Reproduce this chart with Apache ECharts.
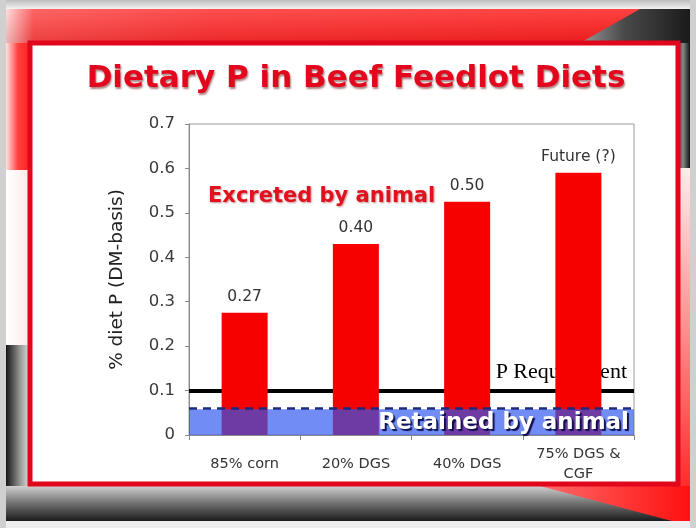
<!DOCTYPE html>
<html>
<head>
<meta charset="utf-8">
<script src="https://cdn.jsdelivr.net/npm/echarts@6/dist/echarts.min.js"></script>
<style>
html,body{margin:0;padding:0;background:#fff;}
#chart{width:696px;height:528px;}
</style>
</head>
<body>
<div id="chart"></div>
<script>
// ---- data ----
const categories = ['85% corn', '20% DGS', '40% DGS', '75% DGS &\nCGF'];
const excretedValues = [0.275, 0.43, 0.525, 0.59];
const barLabels = ['0.27', '0.40', '0.50', 'Future (?)'];
const requirementLevel = 0.105;
const retainedLevel = 0.058;
const yMin = 0, yMax = 0.7, yStep = 0.1;
const titleText = 'Dietary P in Beef Feedlot Diets';
const yAxisTitle = '% diet P (DM-basis)';
const excretedText = 'Excreted by animal';
const retainedText = 'Retained by animal';
const requirementText = 'P Requirement';

const chart = echarts.init(document.getElementById('chart'));

function lg(x, y, x2, y2, stops) {
  return new echarts.graphic.LinearGradient(x, y, x2, y2,
    stops.map(s => ({offset: s[0], color: s[1]})));
}

const bg = [
  {type: 'rect', z: -10, shape: {x: 0, y: 0, width: 696, height: 528}, style: {fill: '#d6d6d6'}},
  {type: 'rect', z: -10, shape: {x: 0, y: 0, width: 696, height: 9}, style: {fill: lg(0,0,0,1,[[0,'#bdbdbd'],[1,'#f2f2f2']])}},
  {type: 'rect', z: -9, shape: {x: 6, y: 9, width: 684, height: 513}, style: {fill: '#ffffff'}},
  // top band
  {type: 'rect', z: -8, shape: {x: 6, y: 9, width: 684, height: 34}, style: {fill: lg(0,0,1,0,[[0,'#ffd6d6'],[0.04,'#ff4a4a'],[0.3,'#ff3030'],[1,'#ff1e1e']])}},
  {type: 'rect', z: -8, shape: {x: 6, y: 9, width: 684, height: 34}, style: {fill: lg(0,0,0,1,[[0,'rgba(255,255,255,0.15)'],[1,'rgba(120,0,0,0.15)']])}},
  {type: 'polygon', z: -7, shape: {points: [[580, 43], [640, 9], [690, 9], [690, 43]]}, style: {fill: lg(0,0,1,0,[[0,'#9a9a9a'],[0.4,'#4a4a4a'],[1,'#1a1a1a']])}},
  // right strip
  {type: 'rect', z: -8, shape: {x: 676, y: 43, width: 14, height: 125}, style: {fill: lg(0,0,1,0,[[0,'#222'],[0.5,'#888'],[1,'#111']])}},
  {type: 'rect', z: -8, shape: {x: 676, y: 168, width: 14, height: 320}, style: {fill: lg(0,0,0,1,[[0,'#ffecec'],[0.5,'#ff9090'],[1,'#ff2a2a']])}},
  // left strip
  {type: 'rect', z: -8, shape: {x: 6, y: 43, width: 24, height: 127}, style: {fill: lg(0,0,1,0,[[0,'#ffe2e2'],[0.5,'#ff4040'],[1,'#ff2020']])}},
  {type: 'rect', z: -8, shape: {x: 6, y: 170, width: 24, height: 175}, style: {fill: lg(0,0,1,0,[[0,'#ffffff'],[1,'#ffe8e8']])}},
  {type: 'rect', z: -8, shape: {x: 6, y: 345, width: 24, height: 143}, style: {fill: lg(0,0,1,0,[[0,'#151515'],[0.6,'#9a9a9a'],[1,'#e0e0e0']])}},
  // bottom band
  {type: 'rect', z: -8, shape: {x: 6, y: 486, width: 684, height: 35}, style: {fill: lg(0,0,0,1,[[0,'#d0d0d0'],[0.5,'#707070'],[1,'#1c1c1c']])}},
  {type: 'polygon', z: -7, shape: {points: [[540, 486], [690, 486], [690, 521], [672, 521]]}, style: {fill: lg(0,0,1,0,[[0,'#ff6a6a'],[1,'#ff1010']])}},
  {type: 'rect', z: -7, shape: {x: 0, y: 521, width: 696, height: 7}, style: {fill: '#eeeeee'}},
  {type: 'rect', z: -7, shape: {x: 690, y: 0, width: 6, height: 528}, style: {fill: '#d0d0d0'}},
  {type: 'rect', z: -7, shape: {x: 0, y: 0, width: 6, height: 528}, style: {fill: '#d0d0d0'}},
  // white panel with red border
  {type: 'rect', z: -5, shape: {x: 30, y: 43, width: 648, height: 441}, style: {fill: '#ffffff', stroke: '#e0061c', lineWidth: 5}}
];

const texts = [
  {type: 'text', z: 50, x: 208, y: 197, style: {
    text: excretedText, fill: '#e3101e', font: 'bold 21px "DejaVu Sans", sans-serif',
    textAlign: 'left', textVerticalAlign: 'middle',
    textShadowColor: 'rgba(110,0,0,0.45)', textShadowBlur: 2, textShadowOffsetX: 1, textShadowOffsetY: 1}},
  {type: 'text', z: 50, x: 629, y: 423, style: {
    text: retainedText, fill: '#ffffff', font: 'bold 23px "DejaVu Sans", sans-serif',
    textAlign: 'right', textVerticalAlign: 'middle',
    textShadowColor: 'rgba(10,10,70,0.95)', textShadowBlur: 1, textShadowOffsetX: 2, textShadowOffsetY: 2}}
];

const option = {
  animation: false,
  title: {
    text: titleText, left: 351, top: 58, textAlign: 'center',
    textStyle: {
      color: '#e3061c', fontSize: 31, fontWeight: 'bold', fontFamily: '"DejaVu Sans", sans-serif',
      textShadowColor: 'rgba(90,0,0,0.5)', textShadowBlur: 2, textShadowOffsetX: 1, textShadowOffsetY: 2
    }
  },
  graphic: {elements: bg.concat(texts)},
  grid: {left: 189, right: 62, top: 124, bottom: 93, show: true, borderColor: '#9a9a9a', borderWidth: 1, backgroundColor: 'transparent'},
  xAxis: {
    type: 'category', data: categories,
    axisLine: {lineStyle: {color: '#8a8a8a', width: 1}},
    axisTick: {show: true, length: 5, lineStyle: {color: '#8a8a8a'}},
    axisLabel: {interval: 0, color: '#333', fontSize: 14.5, fontFamily: '"DejaVu Sans", sans-serif', margin: 29, verticalAlign: 'middle', lineHeight: 20}
  },
  yAxis: {
    type: 'value', min: yMin, max: yMax, interval: yStep,
    name: yAxisTitle, nameLocation: 'middle', nameRotate: 90, nameGap: 62,
    nameTextStyle: {color: '#222', fontSize: 18.5, fontFamily: '"DejaVu Sans", sans-serif'},
    axisLine: {show: true, lineStyle: {color: '#8a8a8a'}},
    axisTick: {show: true, length: 4, lineStyle: {color: '#8a8a8a'}},
    splitLine: {show: false},
    axisLabel: {color: '#3a3a3a', fontSize: 16.5, fontFamily: '"DejaVu Sans", sans-serif', margin: 14}
  },
  series: [
    {
      type: 'line', z: 1, data: [], silent: true,
      markLine: {
        z: 1, silent: true, symbol: 'none', animation: false,
        lineStyle: {color: '#000', width: 4, type: 'solid'},
        label: {show: true, position: 'insideEndTop', formatter: requirementText, distance: 7,
          color: '#000', fontSize: 22, fontFamily: '"Liberation Serif", "Times New Roman", serif'},
        data: [{yAxis: requirementLevel}]
      }
    },
    {
      type: 'bar', z: 2, data: excretedValues, barWidth: 46,
      itemStyle: {color: '#f60000'},
      label: {show: true, position: 'top', distance: 8, color: '#333', fontSize: 15.5,
        fontFamily: '"DejaVu Sans", sans-serif',
        formatter: p => barLabels[p.dataIndex]}
    },
    {
      type: 'line', z: 3, data: [], silent: true,
      markArea: {z: 3, silent: true, itemStyle: {color: 'rgba(45,85,240,0.68)'},
        data: [[{yAxis: 0}, {yAxis: retainedLevel}]]},
      markLine: {
        z: 4, silent: true, symbol: 'none',
        lineStyle: {color: '#1b2a80', width: 2.5, type: [8, 6]},
        label: {show: false},
        data: [{yAxis: retainedLevel}]
      }
    }
  ]
};
chart.setOption(option);
</script>
</body>
</html>
